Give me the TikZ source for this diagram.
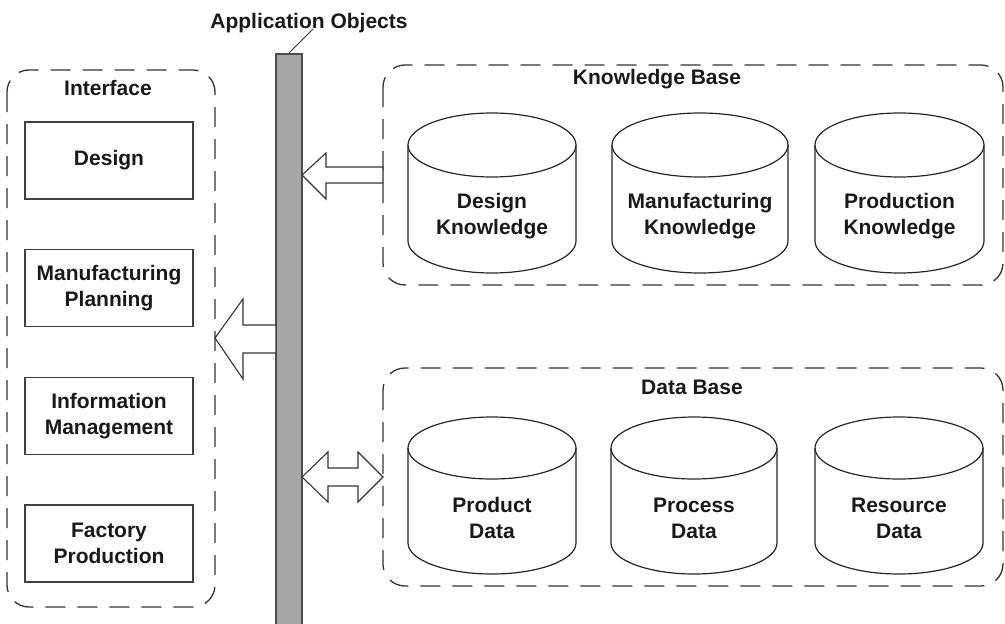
\documentclass[tikz,border=0pt]{standalone}
\usepackage{fontspec}
\setmainfont{Liberation Sans}
\begin{document}
\begin{tikzpicture}[x=1pt,y=-1pt,
  lbl/.style={font=\fontsize{21}{26}\selectfont\bfseries, text=black!90, align=center, inner sep=0pt},
  groupbox/.style={draw=black!80, line width=1.3pt, dash pattern=on 20pt off 12pt, rounded corners=22pt},
  ifbox/.style={draw=black!75, line width=1.5pt, minimum width=168pt, minimum height=77pt, inner sep=0pt, font=\fontsize{21}{26}\selectfont\bfseries, text=black!90, align=center},
  cylline/.style={draw=black!85, line width=1.2pt},
  blockarrow/.style={draw=black!80, line width=1.1pt, fill=white, line join=miter}]
\useasboundingbox (0,0) rectangle (1005,624);
\newcommand{\mycyl}[7]{%
  \draw[cylline] (#2,#4) ellipse [x radius=#3pt, y radius=#6pt];
  \draw[cylline] ({#2-#3},#4) -- ({#2-#3},#5)
    .. controls ({#2-#3},{#5+0.5523*#6}) and ({#2-0.5523*#3},{#5+#6}) .. (#2,{#5+#6})
    .. controls ({#2+0.5523*#3},{#5+#6}) and ({#2+#3},{#5+0.5523*#6}) .. ({#2+#3},#5)
    -- ({#2+#3},#4);
  \node[lbl] (#1) at (#2,{#5-25}) {#7};
}
% group boxes
\draw[groupbox] (7,70) rectangle (215,607);
\draw[groupbox] (383,65) rectangle (1003,285);
\draw[groupbox] (383,368) rectangle (1003,586);
\node[lbl] (iflabel) at (108,88) {Interface};
\node[lbl] (kblabel) at (657,79) {Knowledge Base};
\node[lbl] (dblabel) at (692,387) {Data Base};
% interface boxes
\node[ifbox] (design) at (109,160.5) {Design};
\node[ifbox] (mplan) at (109,288) {Manufacturing\\Planning};
\node[ifbox] (infom) at (109,416) {Information\\Management};
\node[ifbox] (factp) at (109,543.5) {Factory\\Production};
% application objects bar
\node[draw=black!70, fill=black!35, line width=1.5pt, minimum width=26pt, minimum height=580pt, inner sep=0pt, anchor=north] (bar) at (289,53) {};
\node[lbl] (aolabel) at (309,23) {Application Objects};
\coordinate (leader) at (313,29);
\draw[black!80, line width=1pt] (leader) -- (bar.north);
% cylinders
\mycyl{dk}{492}{84}{145}{241}{32}{Design\\Knowledge}
\mycyl{mk}{700}{88}{145}{241}{32}{Manufacturing\\Knowledge}
\mycyl{pk}{899.5}{84.5}{145}{241}{32}{Production\\Knowledge}
\mycyl{pd}{492}{84}{448}{543}{31}{Product\\Data}
\mycyl{prd}{694}{83}{448}{543}{31}{Process\\Data}
\mycyl{rd}{899}{84}{448}{543}{31}{Resource\\Data}
% block arrows
\draw[blockarrow] (302,175) -- (326,153) -- (326,167) -- (383,167) -- (383,183) -- (326,183) -- (326,199) -- cycle;
\draw[blockarrow] (215,338) -- (243,299) -- (243,325) -- (276,325) -- (276,353) -- (243,353) -- (243,379) -- cycle;
\draw[blockarrow] (302,477) -- (328,452) -- (328,468) -- (358,468) -- (358,452) -- (383,477) -- (358,502) -- (358,486) -- (328,486) -- (328,502) -- cycle;
\end{tikzpicture}
\end{document}
